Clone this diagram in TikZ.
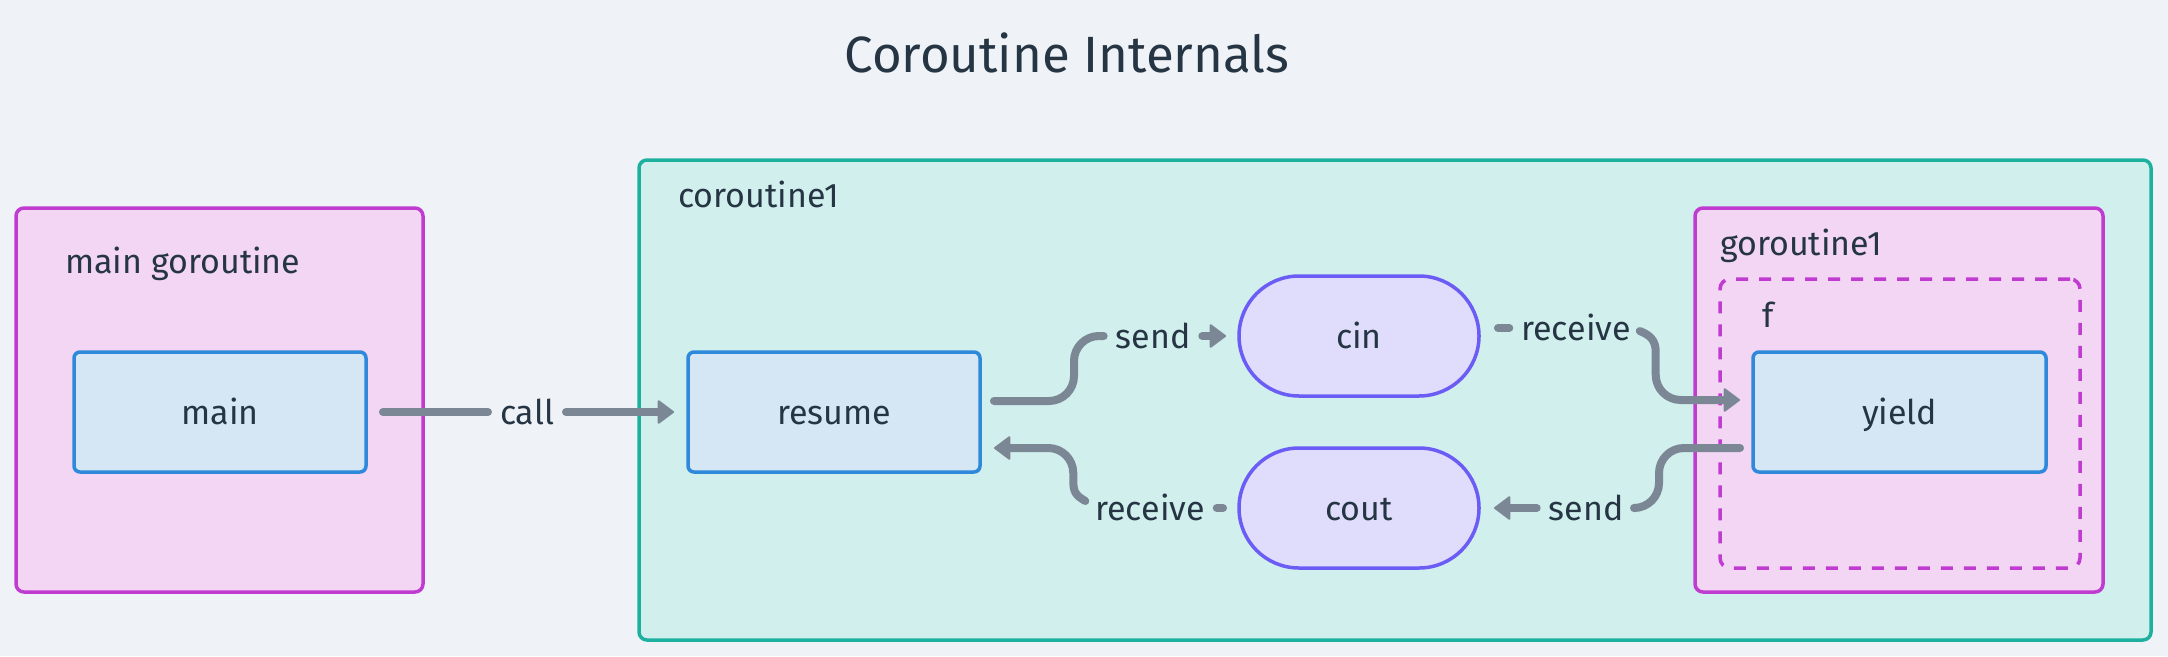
\documentclass[tikz,border=0pt]{standalone}
\usepackage{fontspec}
\setmainfont{Fira Sans}
\usetikzlibrary{arrows.meta}
\definecolor{bgc}{HTML}{EFF3F7}
\definecolor{txt}{HTML}{263544}
\definecolor{gofill}{HTML}{F2D6F4}
\definecolor{godraw}{HTML}{C03CD0}
\definecolor{fnfill}{HTML}{D5E6F5}
\definecolor{fndraw}{HTML}{2E89DB}
\definecolor{cofill}{HTML}{D1EFED}
\definecolor{codraw}{HTML}{1EB09F}
\definecolor{chfill}{HTML}{DFDDFB}
\definecolor{chdraw}{HTML}{6B5CF6}
\definecolor{conncol}{HTML}{7B8794}
\tikzset{
  lblfont/.style={font=\fontsize{34}{40}\selectfont, text=txt},
  container/.style={draw, line width=3.5pt, rounded corners=8pt, inner sep=0pt, outer sep=0pt},
  gobox/.style={container, draw=godraw, fill=gofill},
  cobox/.style={container, draw=codraw, fill=cofill},
  fbox/.style={container, draw=godraw, dash pattern=on 12pt off 11pt, rounded corners=10pt},
  fnbox/.style={draw=fndraw, fill=fnfill, line width=3.5pt, rounded corners=6pt, inner sep=0pt, outer sep=0pt,
     minimum width=292pt, minimum height=120pt, lblfont, text height=25pt, text depth=0pt},
  chbox/.style={draw=chdraw, fill=chfill, line width=3.5pt, rounded corners=60pt, inner sep=0pt, outer sep=0pt,
     minimum width=240pt, minimum height=120pt, lblfont, text height=25pt, text depth=0pt},
  elbl/.style={lblfont, inner xsep=12pt, inner ysep=2pt, outer sep=0pt, text height=25pt, text depth=0pt},
  clbl/.style={lblfont, anchor=base west, inner sep=0pt},
  conn/.style={draw=conncol, line width=8pt, line cap=round, line join=round},
  arrowend/.style={-{Triangle[length=17pt,width=25pt,round,line width=2pt]}},
}
\begin{document}
\begin{tikzpicture}[x=1pt,y=-1pt]
\useasboundingbox (0,0) rectangle (2168,656);
\fill[bgc] (0,0) rectangle (2168,656);

\node[anchor=base, font=\fontsize{51}{60}\selectfont, text=txt] (title) at (1067,72) {Coroutine Internals};

% containers
\node[gobox, minimum width=407pt, minimum height=384pt] (mainG) at (219.5,400) {};
\node[clbl] (mainGl) at (65,273) {main goroutine};
\node[cobox, minimum width=1512pt, minimum height=480pt] (co1) at (1395,400) {};
\node[clbl] (co1l) at (678,207) {coroutine1};
\node[gobox, minimum width=408pt, minimum height=384pt] (go1) at (1899,400) {};
\node[clbl] (go1l) at (1720,255) {goroutine1};
\node[fbox, minimum width=360pt, minimum height=289pt] (fb) at (1900,423.5) {};
\node[clbl] (fl) at (1762,327) {f};

% inner nodes
\node[fnbox] (main) at (220,412) {main};
\node[fnbox] (resume) at (834,412) {resume};
\node[fnbox, minimum width=293pt] (yield) at (1899.5,412) {yield};
\node[chbox] (cin) at (1359,336) {cin};
\node[chbox] (cout) at (1359,508) {cout};

% edge labels
\node[elbl] (callL) at (527,412) {call};
\node[elbl] (sendL) at (1153,336) {send};
\node[elbl] (recvL) at (1150,508) {receive};
\node[elbl] (recvR) at (1576,328) {receive};
\node[elbl] (sendR) at (1586,508) {send};

% call
\draw[conn] ([xshift=17pt]main.east) -- (callL.west);
\draw[conn, arrowend] (callL.east) -- ([xshift=-14pt]resume.west);

% resume -> cin
\draw[conn, rounded corners=25pt] ([xshift=14pt,yshift=11pt]resume.east) -- ++(80,0) |- (sendL.west);
\draw[conn, arrowend] (sendL.east) -- ([xshift=-13pt]cin.west);

% cout -> resume
\draw[conn] ([xshift=-16pt]cout.west) -- (recvL.east);
\draw[conn, arrowend] ([xshift=2pt,yshift=7pt]recvL.west) .. controls +(-10,-6) and +(0,12) .. ++(-12,-21)
   [rounded corners=25pt] |- ([xshift=14pt,yshift=-36pt]resume.east);

% cin -> yield
\draw[conn] ([xshift=19pt,yshift=8pt]cin.east) -- (recvR.west);
\draw[conn, arrowend] ([xshift=-3pt,yshift=-3pt]recvR.east) .. controls +(10,4) and +(0,-12) .. ++(16,21)
   [rounded corners=25pt] |- ([xshift=-13pt,yshift=12pt]yield.west);

% yield -> cout
\draw[conn, rounded corners=25pt] ([xshift=-13pt,yshift=-36pt]yield.west) -- ++(-81,0) |- (sendR.east);
\draw[conn, arrowend] (sendR.west) -- ([xshift=15pt]sendR.west -| cout.east);
\end{tikzpicture}
\end{document}
